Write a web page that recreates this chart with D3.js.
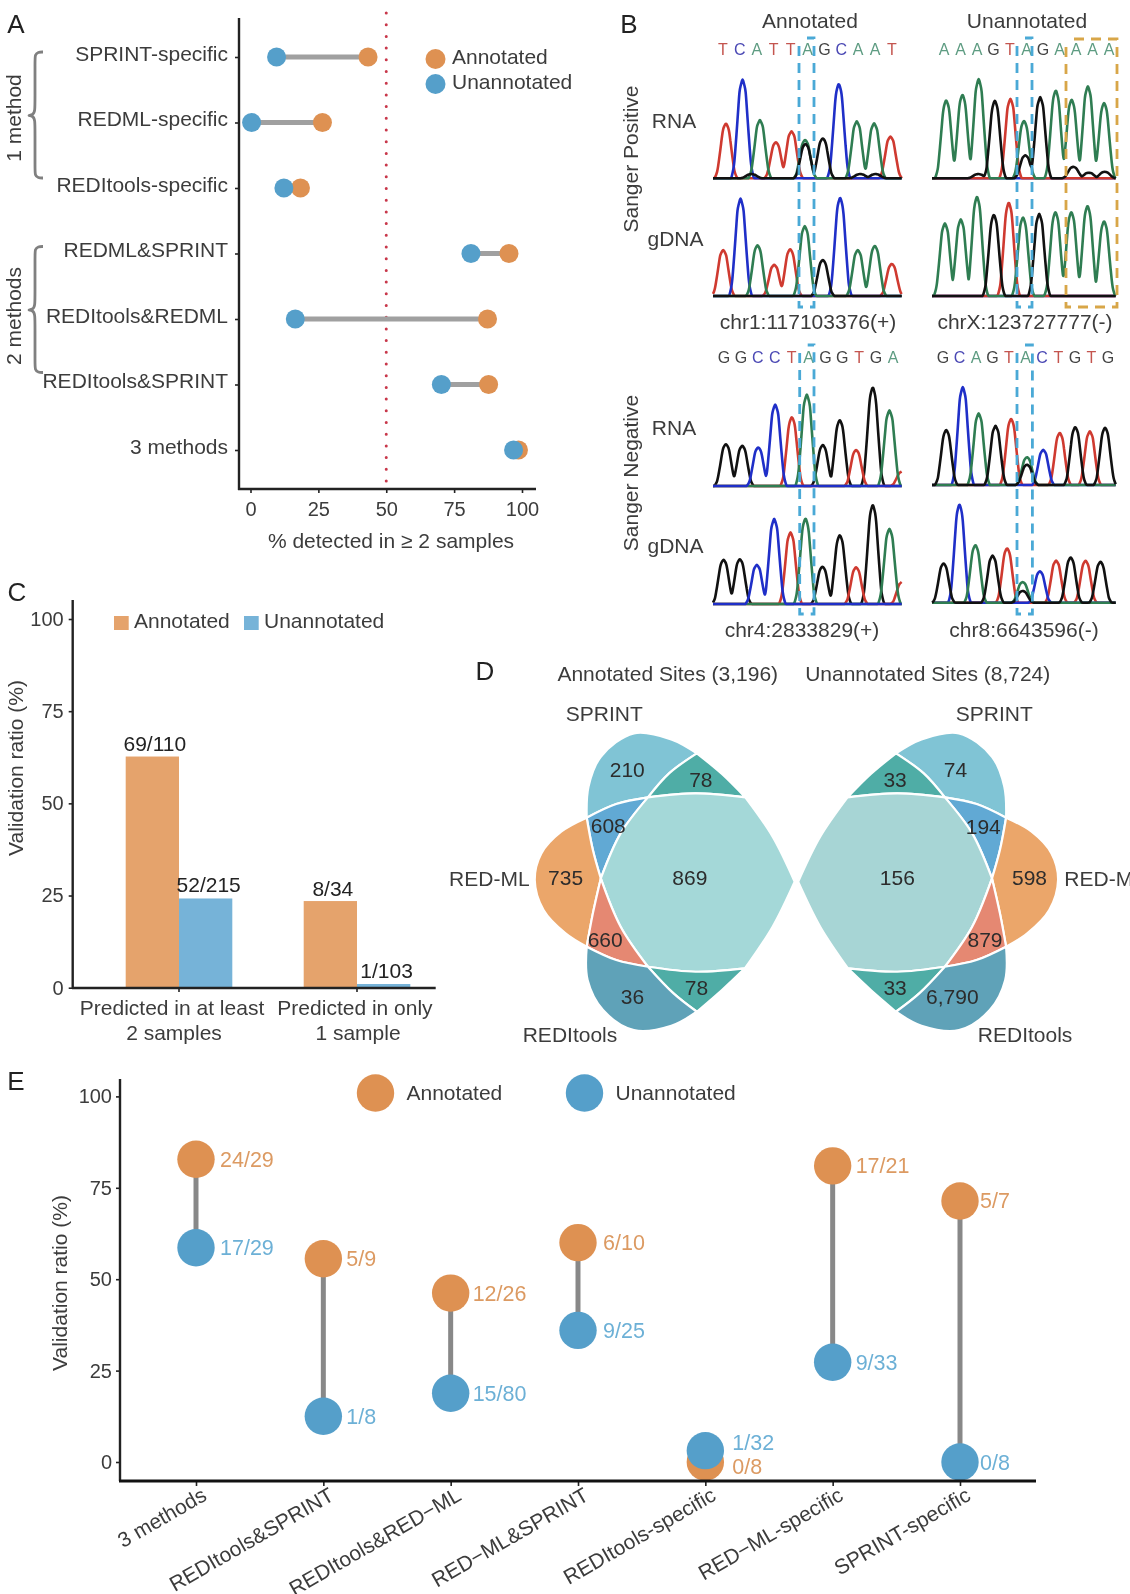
<!DOCTYPE html>
<html><head><meta charset="utf-8">
<script src="https://cdn.jsdelivr.net/npm/d3@7"></script>
<style>html,body{margin:0;padding:0;background:#fff}svg{display:block;filter:blur(0.45px)}text{font-family:"Liberation Sans",Arial,sans-serif;fill:#3c3c3c}</style>
</head><body><svg id="c" width="1130" height="1594"></svg>
<script>
// ---------- Panel A data
const aCats=["SPRINT-specific","REDML-specific","REDItools-specific","REDML&SPRINT","REDItools&REDML","REDItools&SPRINT","3 methods"];
const aAnnotated=[43.3,26.5,18.4,95.2,87.3,87.7,98.7];
const aUnannotated=[9.6,0.4,12.3,81.2,16.5,70.3,96.9];
const aTicks=[0,25,50,75,100];
// ---------- Panel C data
const cCats=["Predicted in at least|2 samples","Predicted in only|1 sample"];
const cAnnotated=[62.7,23.5];
const cUnannotated=[24.2,1.0];
const cAnnLabels=["69/110","8/34"];
const cUnLabels=["52/215","1/103"];
const cTicks=[0,25,50,75,100];
// ---------- Panel E data
const eCats=["3 methods","REDItools&SPRINT","REDItools&RED\u2212ML","RED\u2212ML&SPRINT","REDItools-specific","RED\u2212ML-specific","SPRINT-specific"];
const eAnnotated=[82.8,55.6,46.2,60,0,81,71.4];
const eUnannotated=[58.6,12.5,18.8,36,3.1,27.3,0];
const eAnnLabels=["24/29","5/9","12/26","6/10","0/8","17/21","5/7"];
const eUnLabels=["17/29","1/8","15/80","9/25","1/32","9/33","0/8"];
const eTicks=[0,25,50,75,100];
// ---------- Panel D data
const dLeftCounts=["210","78","608","735","869","660","78","36"];
const dRightCounts=["74","33","194","598","156","879","33","6,790"];
const dRegionNames=["sprint","sprintRedi","sprintRedml","redml","all","redmlRedi","rediSprint","redi"];
// ---------- Panel B data: [scan, signal] of each peak
const seqPosAnn="TCATTAGCAAT".split("");
const seqPosUn="AAAGTAGAAAA".split("");
const seqNegAnn="GGCCTAGGTGA".split("");
const seqNegUn="GCAGTACTGTG".split("");
const posAnnRNA={red:[[38,167],[185,110],[231,143],[522,127]],blue:[[87,300],[370,288]],green:[[138,177],[271,117],[423,173],[474,167]],black:[[113,13],[272,105],[323,122],[433,13],[478,13]]};
const posAnnDNA={red:[[30,140],[180,95],[227,143],[526,98]],blue:[[81,296],[374,300]],green:[[131,155],[270,213],[426,140],[476,153]],black:[[323,110]]};
const posUnRNA={red:[[237,242]],blue:[],green:[[43,238],[92,255],[141,302],[278,175],[374,268],[422,240],[471,280],[520,230]],black:[[140,13],[190,237],[282,70],[327,247],[427,35],[474,17],[522,20]]};
const posUnDNA={red:[[232,285]],blue:[],green:[[39,221],[87,233],[136,303],[275,240],[373,256],[421,256],[470,275],[520,228]],black:[[187,248],[324,250]]};
const negAnnRNA={black:[[38,128],[86,123],[323,125],[373,201],[470,301]],red:[[232,210],[421,110],[556,44]],green:[[276,278],[519,230]],blue:[[133,118],[183,248]]};
const negAnnDNA={black:[[31,135],[79,137],[322,114],[373,210],[470,302]],red:[[228,218],[421,112],[556,67]],green:[[272,261],[519,229]],blue:[[129,119],[180,259]]};
const negUnRNA={red:[[239,202],[386,159],[477,163]],blue:[[93,298],[336,107]],green:[[141,218],[287,85]],black:[[43,168],[192,180],[287,62],[433,177],[523,175]]};
const negUnDNA={red:[[227,166],[375,128],[464,128]],blue:[[83,300],[326,96]],green:[[131,176],[274,63]],black:[[35,120],[183,143],[274,36],[419,138],[509,125]]};
const peakOffsets=[-33,-25,-17,-9,0,9,17,25,33];
const peakFractions=[0,.12,.48,.88,1,.88,.48,.12,0];

const svg=d3.select("#c");
svg.append("rect").attr("width",1130).attr("height",1594).attr("fill","#fff");
const ORANGE="#de9152",BLUE="#559fca",FS=21,TICK=20;

function txt(x,y,s,o={}){
  const t=svg.append("text").attr("x",x).attr("y",y).attr("dy",".35em").text(s)
   .attr("font-size",o.size||FS).attr("text-anchor",o.anchor||"middle");
  if(o.fill)t.style("fill",o.fill);
  if(o.rotate!=null)t.attr("transform",`rotate(${o.rotate},${x},${y})`);
  return t;
}
function styleAxis(g,w,size){
  g.select(".domain").remove();
  g.selectAll("line").attr("stroke","#222").attr("stroke-width",w||1.6);
  g.selectAll("text").attr("font-size",size||TICK).style("fill","#3c3c3c").attr("font-family","Liberation Sans");
  return g;
}
function hv(x1,y1,x2,y2,w,col){svg.append("line").attr("x1",x1).attr("y1",y1).attr("x2",x2).attr("y2",y2).attr("stroke",col||"#222").attr("stroke-width",w||2.4);}
["A",16,24,"B",629,24,"C",17,592,"D",485,671,"E",16,1081].forEach((v,i,a)=>{if(i%3==0)txt(a[i+1],a[i+2],v,{size:26,fill:"#222"});});

// ---------- Panel A
{
 const x=d3.scaleLinear().domain([0,100]).range([250.5,522]);
 const y=d3.scalePoint().domain(aCats).range([57,450]);
 const ax=svg.append("g").attr("transform","translate(0,489)").call(d3.axisBottom(x).tickValues(aTicks).tickSize(4).tickPadding(9));
 styleAxis(ax);
 const ay=svg.append("g").attr("transform","translate(239,0)").call(d3.axisLeft(y).tickSize(4).tickPadding(7));
 styleAxis(ay,1.6,21); ay.selectAll("text").attr("dy","0.15em");
 hv(239,18,239,490); hv(238,489,536,489);
 svg.append("line").attr("x1",x(50)).attr("x2",x(50)).attr("y1",13).attr("y2",482).attr("stroke","#c8374a").attr("stroke-width",3).attr("stroke-linecap","round").attr("stroke-dasharray","0 11.7");
 aCats.forEach((c,i)=>{
  svg.append("line").attr("x1",x(aUnannotated[i])).attr("x2",x(aAnnotated[i])).attr("y1",y(c)).attr("y2",y(c)).attr("stroke","#a0a0a0").attr("stroke-width",5);
  svg.append("circle").attr("cx",x(aAnnotated[i])).attr("cy",y(c)).attr("r",9.5).attr("fill",ORANGE);
  svg.append("circle").attr("cx",x(aUnannotated[i])).attr("cy",y(c)).attr("r",9.5).attr("fill",BLUE);
 });
 txt(391,541,"% detected in \u2265 2 samples");
 [["Annotated",ORANGE,59],["Unannotated",BLUE,84]].forEach(d=>{
  svg.append("circle").attr("cx",435.5).attr("cy",d[2]).attr("r",10).attr("fill",d[1]);
  txt(452,d[2]-2,d[0],{anchor:"start"});
 });
 const brace=d3.line().curve(d3.curveBasis);
 const bracePts=[[43,52],[38,52],[35,55],[35,60],[35,100],[35,111],[33,115],[27,115.5],[33,116],[35,120],[35,131],[35,170],[35,175],[38,178],[43,178]];
 svg.append("path").attr("d",brace(bracePts)).attr("fill","none").attr("stroke","#808080").attr("stroke-width",2.8);
 svg.append("path").attr("d",brace(bracePts.map(p=>[p[0],p[1]+194.5]))).attr("fill","none").attr("stroke","#808080").attr("stroke-width",2.8);
 txt(14,118,"1 method",{rotate:-90});
 txt(14,316,"2 methods",{rotate:-90});
}
// ---------- Panel B
{
 const traceCol={red:"#cf3a30",blue:"#1f2fc8",green:"#2f7d52",black:"#111"};
 const letterCol={T:"#c4554f",C:"#4a48b4",A:"#5e9c82",G:"#444"};
 const traceLine=d3.line().curve(d3.curveBasis);
 const shape=d3.scaleLinear().domain(peakOffsets).range(peakFractions).clamp(true);
 const grid=d3.range(0,557,3);
 const panels=[
  [posAnnRNA,713,189,178.3,["red","blue","green","black"]],
  [posAnnDNA,713,189,296,["red","blue","green","black"]],
  [posUnRNA,932,184,178.3,["blue","red","green","black"]],
  [posUnDNA,932,184,296,["blue","red","green","black"]],
  [negAnnRNA,713,189,486,["black","red","green","blue"]],
  [negAnnDNA,713,189,604,["black","red","green","blue"]],
  [negUnRNA,932,184,485,["red","blue","green","black"]],
  [negUnDNA,932,184,602.7,["red","blue","green","black"]]
 ];
 panels.forEach(([tr,left,wid,base,order])=>{
  const x=d3.scaleLinear().domain([0,556]).range([left,left+wid]);
  const y=d3.scaleLinear().domain([0,300]).range([base,base-100]);
  order.forEach(col=>{
   const peaks=tr[col]||[];
   const pts=grid.map(s=>[x(s),y(d3.max(peaks,p=>p[1]*shape(s-p[0]))||0)]);
   svg.append("path").attr("d",traceLine(pts)).attr("fill","none").attr("stroke",traceCol[col]).attr("stroke-width",2.6);
  });
 });
 const seqs=[[seqPosAnn,723,169,49],[seqPosUn,944,165,49],[seqNegAnn,724,169,357],[seqNegUn,943,165,357]];
 seqs.forEach(([s,x0,w,yy])=>{
  const x=d3.scalePoint().domain(d3.range(11)).range([x0,x0+w]);
  s.forEach((l,i)=>txt(x(i),yy,l,{size:16,fill:letterCol[l]}));
 });
 function box(x1,x2,y1,y2,col){
  svg.append("path").attr("d",`M${x1},${y1+8}L${x1},${y2}L${x2},${y2}L${x2},${y1}L${x1+8},${y1}`).attr("fill","none").attr("stroke",col).attr("stroke-width",2.8).attr("stroke-dasharray","10 7");
 }
 box(799,814,38,307,"#4aa9d6"); box(1017,1032,38,307,"#4aa9d6");
 box(1066,1117,39,307,"#d8a648");
 box(799.7,814,345,614,"#4aa9d6"); box(1017,1032.4,345,614,"#4aa9d6");
 txt(810,21,"Annotated"); txt(1027,21,"Unannotated");
 txt(631,159,"Sanger Positive",{rotate:-90}); txt(631,473,"Sanger Negative",{rotate:-90});
 [[674,120.7,"RNA"],[675.5,238.7,"gDNA"],[674,428,"RNA"],[675.5,546,"gDNA"]].forEach(d=>txt(d[0],d[1],d[2]));
 [[808,322,"chr1:117103376(+)"],[1025,322,"chrX:123727777(-)"],[802,630,"chr4:2833829(+)"],[1024,630,"chr8:6643596(-)"]].forEach(d=>txt(d[0],d[1],d[2]));
}
// ---------- Panel C
{
 const x=d3.scaleBand().domain(cCats).range([90,446]);
 const y=d3.scaleLinear().domain([0,100]).range([987.7,619]);
 const ay=svg.append("g").attr("transform","translate(72.7,0)").call(d3.axisLeft(y).tickValues(cTicks).tickSize(4).tickPadding(5));
 styleAxis(ay);
 const ax=svg.append("g").attr("transform","translate(0,988)").call(d3.axisBottom(x).tickSize(4).tickFormat(""));
 styleAxis(ax);
 const bw=53.3;
 cCats.forEach((c,i)=>{
  const cx=x(c)+x.bandwidth()/2;
  svg.append("rect").attr("x",cx-bw).attr("width",bw).attr("y",y(cAnnotated[i])).attr("height",y(0)-y(cAnnotated[i])).attr("fill","#e5a36c");
  svg.append("rect").attr("x",cx).attr("width",bw).attr("y",y(cUnannotated[i])).attr("height",y(0)-y(cUnannotated[i])).attr("fill","#76b3d8");
  txt(cx-bw/2+2.5,y(cAnnotated[i])-12.5,cAnnLabels[i],{fill:"#222"});
  txt(cx+bw/2+3,y(cUnannotated[i])-13.5,cUnLabels[i],{fill:"#222"});
  const parts=c.split("|");
  txt(cx-(i?2:7),1007.5,parts[0]); txt(cx+(i?1:-5),1033,parts[1]);
 });
 hv(72.7,600,72.7,989); hv(72,988,435.7,988);
 svg.append("rect").attr("x",114).attr("y",616).attr("width",14.7).attr("height",14).attr("fill","#e5a36c");
 svg.append("rect").attr("x",244).attr("y",616).attr("width",14.7).attr("height",14).attr("fill","#76b3d8");
 txt(134,620.7,"Annotated",{anchor:"start"}); txt(264,620.7,"Unannotated",{anchor:"start"});
 txt(16,768,"Validation ratio (%)",{rotate:-90});
}
// ---------- Panel D
{
 const V={A:[333,503],B:[472,442],C:[693,442],D:[583,310],E:[365,685],F:[805,695],G:[333,890],H:[472,950],I:[692,955],J:[583,1085]};
 const edges={
  topLobe:[V.A,[337,410],[365,320],[440,250],[525,268],V.D],
  DC:[V.D,[640,372],V.C], BD:[V.B,[520,370],V.D], AB:[V.A,[400,462],V.B],
  BC:[V.B,[580,430],V.C], BE:[V.B,[410,550],V.E], AE:[V.A,[347,600],V.E],
  orange:[V.G,[285,850],[235,780],[215,690],[230,610],[275,545],V.A],
  EG:[V.E,[347,790],V.G], HE:[V.H,[410,830],V.E], GH:[V.G,[400,930],V.H],
  HI:[V.H,[580,965],V.I], CF:[V.C,[755,560],V.F], FI:[V.F,[755,830],V.I],
  botLobe:[V.G,[335,990],[370,1080],[440,1140],[525,1127],V.J], JI:[V.J,[640,1020],V.I], HJ:[V.H,[530,1030],V.J]
 };
 const rev=e=>e.slice().reverse();
 const regions={
  sprint:[edges.AB,edges.BD,rev(edges.topLobe)],
  sprintRedi:[edges.BD,edges.DC,rev(edges.BC)],
  sprintRedml:[edges.AB,edges.BE,rev(edges.AE)],
  redml:[edges.orange,edges.AE,edges.EG],
  all:[edges.BC,edges.CF,edges.FI,rev(edges.HI),edges.HE,rev(edges.BE)],
  redmlRedi:[rev(edges.EG),rev(edges.HE),rev(edges.GH)],
  rediSprint:[edges.HI,rev(edges.JI),rev(edges.HJ)],
  redi:[edges.botLobe,rev(edges.HJ),rev(edges.GH)]
 };
 const fills={sprint:"#80c4d5",sprintRedi:"#4fada6",sprintRedml:"#61a9d4",redml:"#eba66a",all:"#a4d8d8",redmlRedi:"#e58872",rediSprint:"#4fada6",redi:"#5fa2b8"};
 const pos={sprint:[425,360],sprintRedi:[592,388],sprintRedml:[382,527],redml:[285,682],all:[567,682],redmlRedi:[375,870],rediSprint:[582,1013],redi:[437,1040]};
 const x=d3.scaleLinear().domain([0,690]).range([440,744]);
 const xMirror=d3.scaleLinear().domain([0,809]).range([1152.8,796.4]);
 const y=d3.scaleLinear().domain([0,410]).range([650,786.7]);
 const curve=d3.line().curve(d3.curveCatmullRom.alpha(.5));
 [x,xMirror].forEach((xs,side)=>{
  dRegionNames.forEach(name=>{
   const d=regions[name].map((e,j)=>{const s=curve(e.map(p=>[xs(p[0]),y(p[1])]));return j?"L"+s.slice(1):s;}).join("")+"Z";
   svg.append("path").attr("d",d).attr("fill",side&&name=="all"?"#a7d5d5":fills[name]).attr("stroke","#fff").attr("stroke-width",2.2).attr("stroke-linejoin","round");
  });
 });
 dRegionNames.forEach((name,i)=>{
  txt(x(pos[name][0]),y(pos[name][1]),dLeftCounts[i],{fill:"#2c2c2c"});
 });
 const rightPos={sprint:[1170,360],sprintRedi:[1033,388],sprintRedml:[1233,530],redml:[1338,682],all:[1038,682],redmlRedi:[1237,870],rediSprint:[1033,1013],redi:[1163,1040]};
 dRegionNames.forEach((name,i)=>{
  txt(x(rightPos[name][0]),y(rightPos[name][1]),dRightCounts[i],{fill:"#2c2c2c"});
 });
 [[373,190,"SPRINT"],[1258,190,"SPRINT"],[112,685,"RED-ML"],[295,1153,"REDItools"],[1328,1153,"REDItools"],[517,72,"Annotated Sites (3,196)"],[1107,72,"Unannotated Sites (8,724)"]].forEach(d=>txt(x(d[0]),y(d[1]),d[2]));
 txt(x(1417),y(685),"RED-ML",{anchor:"start"});
}
// ---------- Panel E
{
 const x=d3.scalePoint().domain(eCats).range([196,960]);
 const y=d3.scaleLinear().domain([0,100]).range([1462,1096.4]);
 const ay=svg.append("g").attr("transform","translate(120,0)").call(d3.axisLeft(y).tickValues(eTicks).tickSize(4).tickPadding(4));
 styleAxis(ay);
 const ax=svg.append("g").attr("transform","translate(0,1481)").call(d3.axisBottom(x).tickSize(5).tickPadding(8));
 styleAxis(ax,1.6,21);
 ax.selectAll("text").attr("text-anchor","end").attr("dy","0").attr("transform","translate(5,7) rotate(-30)");
 hv(120,1079,120,1481);
 const labelGap=[24,23,22,25,27,23,20];
 eCats.forEach((c,i)=>{
  svg.append("line").attr("x1",x(c)).attr("x2",x(c)).attr("y1",y(eAnnotated[i])).attr("y2",y(eUnannotated[i])).attr("stroke","#888").attr("stroke-width",5);
  svg.append("circle").attr("cx",x(c)).attr("cy",y(eAnnotated[i])).attr("r",18.7).attr("fill",ORANGE);
  svg.append("circle").attr("cx",x(c)).attr("cy",y(eUnannotated[i])).attr("r",18.7).attr("fill",BLUE);
  const close=eCats[i]=="REDItools-specific";
  txt(x(c)+labelGap[i],y(eAnnotated[i])+(close?4:0),eAnnLabels[i],{anchor:"start",fill:"#dc9a62",size:21.5});
  txt(x(c)+labelGap[i],y(eUnannotated[i])+(close?-8:0),eUnLabels[i],{anchor:"start",fill:"#6cb0d6",size:21.5});
 });
 hv(119,1481,1036,1481,3,"#111");
 [["Annotated",ORANGE,375.5,406.5],["Unannotated",BLUE,584.5,615.5]].forEach(d=>{
  svg.append("circle").attr("cx",d[2]).attr("cy",1093).attr("r",18.7).attr("fill",d[1]);
  txt(d[3],1093,d[0],{anchor:"start"});
 });
 txt(60,1283,"Validation ratio (%)",{rotate:-90});
}
</script></body></html>
